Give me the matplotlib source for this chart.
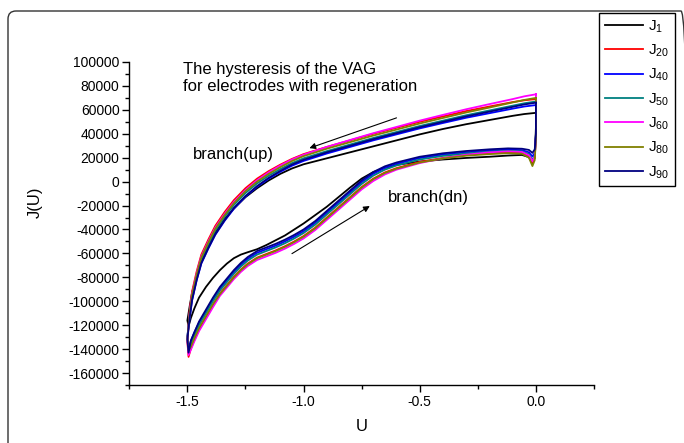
import matplotlib
matplotlib.use('Agg')
import matplotlib.pyplot as plt
from matplotlib.patches import FancyBboxPatch
from matplotlib.ticker import MultipleLocator, FuncFormatter

plt.rcParams['font.family'] = ['Liberation Sans', 'DejaVu Sans']
plt.rcParams['mathtext.fontset'] = 'custom'
plt.rcParams['mathtext.rm'] = 'Liberation Sans'
plt.rcParams['mathtext.it'] = 'Liberation Sans:italic'
plt.rcParams['mathtext.bf'] = 'Liberation Sans:bold'
plt.rcParams['axes.unicode_minus'] = False

# ---------------- data ----------------
series_names = ['J1', 'J20', 'J40', 'J50', 'J60', 'J80', 'J90']
legend_labels = [r'$\mathrm{J}_{1}$', r'$\mathrm{J}_{20}$', r'$\mathrm{J}_{40}$',
                 r'$\mathrm{J}_{50}$', r'$\mathrm{J}_{60}$', r'$\mathrm{J}_{80}$',
                 r'$\mathrm{J}_{90}$']
colors = ['#000000', '#ff0000', '#0000ff', '#008080', '#ff00ff', '#808000', '#000080']

# upper branch (scan from 0 V towards -1.5 V)
U_up = [0.0, -0.05, -0.1, -0.2, -0.3, -0.4, -0.5, -0.6, -0.7, -0.8, -0.9, -1.0,
        -1.05, -1.1, -1.15, -1.2, -1.25, -1.3, -1.34, -1.38, -1.41, -1.44, -1.46,
        -1.48, -1.49, -1.50]
J1_up = [57500, 56500, 55000, 51500, 48000, 44000, 39500, 34500, 29500, 24500, 19500, 14500,
         11000, 6500, 1000, -5500, -13000, -22500, -31500, -42500, -53500, -66000, -79000,
         -93000, -104000, -116000]
J20_up = [69000, 68000, 66500, 62800, 59000, 54500, 50000, 45000, 40000, 34500, 29000, 23000,
          19000, 14200, 8800, 2500, -5500, -15500, -25500, -37000, -48500, -61000, -75000,
          -92000, -107500, -134000]
J40_up = [64000, 62800, 61000, 57200, 53400, 49000, 44500, 39500, 34500, 29000, 23500, 17300,
          13300, 8200, 2500, -4300, -12500, -22700, -32800, -44500, -56000, -68500, -82500,
          -99500, -114000, -129000]
J50_up = [67000, 65500, 63500, 59500, 55500, 51000, 46500, 41500, 36500, 31000, 25500, 19500,
          15500, 10500, 5000, -1500, -9500, -19500, -29500, -41000, -52500, -65000, -79000,
          -96000, -111000, -130000]
J60_up = [73000, 71300, 69000, 64800, 60500, 55800, 51000, 45700, 40500, 34800, 29000, 22500,
          18500, 13500, 7800, 1200, -7000, -17000, -27000, -38500, -50000, -62500, -76500,
          -93500, -109000, -132000]
J80_up = [70000, 68300, 66200, 61900, 57800, 53200, 48600, 43500, 38500, 33000, 27500, 21300,
          17200, 12100, 6500, 0, -8000, -18000, -28000, -39500, -51000, -63500, -77500,
          -94500, -110000, -131000]
J90_up = [66000, 64500, 62500, 58500, 54500, 50000, 45500, 40500, 35500, 30000, 24500, 18300,
          14300, 9000, 3200, -3700, -12000, -22000, -32300, -44000, -55500, -68000, -82000,
          -99000, -113500, -132000]

# lower branch (scan from -1.5 V back to 0 V)
U_dn = [-1.495, -1.485, -1.47, -1.45, -1.42, -1.39, -1.36, -1.33, -1.30, -1.27, -1.24,
        -1.20, -1.16, -1.12, -1.08, -1.04, -1.00, -0.95, -0.90, -0.85, -0.80, -0.75,
        -0.70, -0.65, -0.60, -0.50, -0.40, -0.30, -0.20, -0.12, -0.06, -0.03, -0.015,
        -0.005, 0.0]
J1_dn = [-121000, -114000, -106000, -97000, -88000, -80500, -74000, -68500, -64000, -61000,
         -59000, -56500, -53000, -49000, -45000, -40000, -35000, -28000, -21000, -13000,
         -5000, 2500, 8000, 11500, 14000, 16800, 18500, 19800, 20800, 21800, 22300, 20500,
         15500, 20000, 45000]
J20_dn = [-146500, -139500, -132500, -123500, -113000, -103000, -93500, -86500, -79500, -73500,
          -68500, -63500, -60500, -57500, -54000, -50000, -45500, -38500, -30000, -21500,
          -13000, -4500, 2500, 7700, 11300, 16500, 19800, 22200, 24000, 24800, 24300, 21500,
          16000, 20000, 37000]
J40_dn = [-139000, -133000, -126000, -118000, -108500, -98500, -89500, -82500, -75500, -69500,
          -64500, -59500, -56500, -53500, -50000, -46000, -41500, -34500, -26000, -17500,
          -9000, -500, 6500, 11400, 14900, 19700, 22600, 24500, 26000, 26800, 26300, 24500,
          21000, 24000, 39000]
J50_dn = [-142000, -136000, -129000, -120000, -110000, -100000, -91000, -84000, -77000, -71000,
          -66000, -61000, -58000, -55000, -51500, -47500, -43000, -36000, -27500, -19000,
          -10500, -2000, 5000, 10000, 13500, 18500, 21500, 23500, 25000, 25800, 25300, 23000,
          18000, 22000, 38000]
J60_dn = [-145000, -140500, -133500, -125000, -115000, -105000, -95500, -88500, -81500, -75500,
          -70500, -65500, -62500, -59500, -56000, -52000, -47500, -40500, -32000, -23500,
          -15000, -6500, 500, 6000, 10000, 15500, 19500, 22500, 24500, 25300, 24800, 22000,
          17000, 21000, 37000]
J80_dn = [-141000, -138000, -131000, -122500, -112500, -102500, -94000, -87000, -80000, -74000,
          -69000, -64000, -61000, -58000, -54500, -50500, -46000, -39000, -30500, -22000,
          -13500, -5000, 2000, 7200, 10800, 16000, 19300, 21700, 23000, 23800, 23300, 20000,
          13000, 18000, 36000]
J90_dn = [-143000, -133000, -126000, -117000, -107000, -97000, -88000, -81000, -74000, -68000,
          -63000, -58000, -55000, -52000, -48500, -44500, -40000, -33000, -24500, -16000,
          -7500, 1000, 8000, 12800, 16000, 20800, 23700, 25600, 27000, 27800, 27500, 26500,
          24000, 27000, 40000]

J_up_all = [J1_up, J20_up, J40_up, J50_up, J60_up, J80_up, J90_up]
J_dn_all = [J1_dn, J20_dn, J40_dn, J50_dn, J60_dn, J80_dn, J90_dn]

x_ticks = [-1.5, -1.0, -0.5, 0.0]
y_ticks = list(range(-160000, 100001, 20000))

title_text = "The hysteresis of the VAG\nfor electrodes with regeneration"
arrow_up = ((-0.60, 53300), (-0.975, 28000))
arrow_dn = ((-1.05, -60200), (-0.715, -20400))

# ---------------- figure ----------------
W, H = 684, 443
fig = plt.figure(figsize=(W / 100, H / 100), dpi=100)
ax = fig.add_axes([129.3 / W, 1 - 385 / H, 464.7 / W, 323 / H])

for name, lab, col, ju, jd in zip(series_names, legend_labels, colors, J_up_all, J_dn_all):
    xs = U_up + U_dn + [U_up[0]]
    ys = ju + jd + [ju[0]]
    ax.plot(xs, ys, color=col, lw=1.3, label=lab, solid_joinstyle='round')

ax.set_xlim(-1.75, 0.25)
ax.set_ylim(-170000, 100000)
ax.set_xticks(x_ticks)
ax.set_yticks(y_ticks)
ax.xaxis.set_minor_locator(MultipleLocator(0.25))
ax.yaxis.set_minor_locator(MultipleLocator(10000))
ax.xaxis.set_major_formatter(FuncFormatter(lambda v, p: f"{v:.1f}".replace('-0.0', '0.0')))
ax.yaxis.set_major_formatter(FuncFormatter(lambda v, p: f"{int(round(v))}"))
ax.tick_params(which='major', direction='out', length=5, width=1.0, labelsize=10, pad=2)
ax.tick_params(which='minor', direction='out', length=3, width=1.0)
for s in ['top', 'right']:
    ax.spines[s].set_visible(False)
for s in ['left', 'bottom']:
    ax.spines[s].set_linewidth(1.0)

ax.set_xlabel('U', fontsize=12)
ax.xaxis.set_label_coords(0.5, (385 - 426.5) / 323)
ax.xaxis.label.set_va('center')
ax.set_ylabel('J(U)', fontsize=12)
ax.yaxis.set_label_coords((35 - 129.3) / 464.7, (385 - 202) / 323)
ax.yaxis.label.set_va('center')

fig.text(183 / W, 1 - 62 / H, title_text, fontsize=12, ha='left', va='top', linespacing=1.17)
fig.text(192.7 / W, 1 - 159.3 / H, 'branch(up)', fontsize=12, ha='left', va='baseline')
fig.text(388.3 / W, 1 - 201.7 / H, 'branch(dn)', fontsize=12, ha='left', va='baseline')

for (start, end) in (arrow_up, arrow_dn):
    ax.annotate('', xy=end, xytext=start,
                arrowprops=dict(arrowstyle='-|>', lw=0.8, color='black',
                                mutation_scale=9, shrinkA=0, shrinkB=0))

leg = ax.legend(loc='upper left', bbox_to_anchor=(599 / W, 1 - 12.7 / H),
                bbox_transform=fig.transFigure, frameon=True, fancybox=False,
                edgecolor='black', framealpha=1, borderaxespad=0, handlelength=2.55,
                handletextpad=0.33, labelspacing=0.52, borderpad=0.36, fontsize=11)
leg.get_frame().set_linewidth(1.0)

border = FancyBboxPatch((8, -10), 681, 442, boxstyle='round,pad=0,rounding_size=8',
                        transform=None, fill=False, edgecolor='#333333', lw=1.0)
fig.add_artist(border)

fig.savefig('out.png', dpi=100)
